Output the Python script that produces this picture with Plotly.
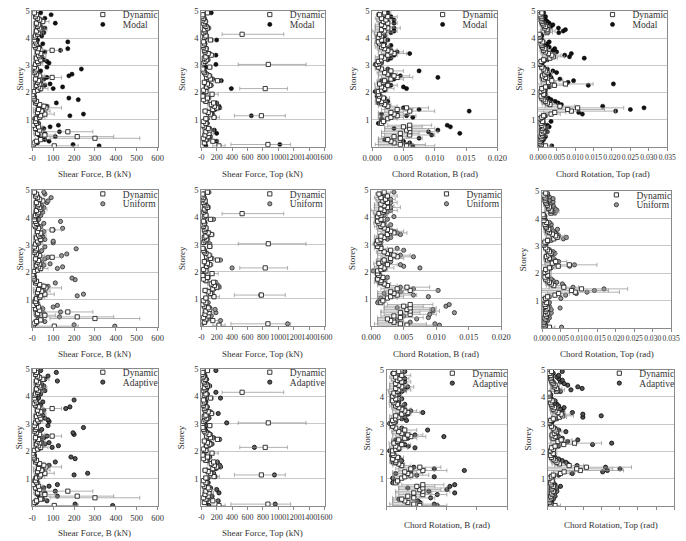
import plotly.graph_objects as go
import numpy as np

W, H = 686, 541

# ---------------- DATA ----------------
storey = [0.03, 0.08, 0.14, 0.20, 0.26, 0.31, 0.37, 0.43, 0.49, 0.55, 0.61, 0.67, 0.73, 0.79, 0.86, 0.93,
          1.03, 1.08, 1.14, 1.20, 1.26, 1.31, 1.37, 1.43, 1.49, 1.55, 1.61, 1.67, 1.73, 1.79, 1.86, 1.93,
          2.03, 2.08, 2.14, 2.20, 2.26, 2.31, 2.37, 2.43, 2.49, 2.55, 2.61, 2.67, 2.73, 2.79, 2.86, 2.93,
          3.03, 3.08, 3.14, 3.20, 3.26, 3.31, 3.37, 3.43, 3.49, 3.55, 3.61, 3.67, 3.73, 3.79, 3.86, 3.93,
          4.03, 4.08, 4.14, 4.20, 4.26, 4.31, 4.37, 4.43, 4.49, 4.55, 4.61, 4.67, 4.73, 4.79, 4.86, 4.93]

# Shear force, B (kN)
shear_b_dynamic = [105, 5, 10, 20, 40, 300, 215, 60, 25, 170, 35, 15, 30, 5, 20, 15,
                   20, 35, 40, 60, 25, 45, 30, 65, 55, 35, 15, 20, 10, 8, 5, 2,
                   10, 25, 40, 30, 20, 35, 25, 30, 15, 95, 35, 20, 10, 15, 20, 10,
                   15, 30, 25, 40, 20, 35, 30, 40, 25, 95, 30, 15, 10, 20, 15, 10,
                   10, 15, 25, 30, 20, 40, 35, 25, 30, 20, 50, 35, 25, 15, 20, 10]
shear_b_dynamic_err = [115, 5, 8, 15, 25, 215, 175, 50, 20, 120, 25, 10, 20, 5, 15, 10,
                       15, 25, 30, 45, 20, 40, 25, 75, 25, 20, 10, 10, 8, 5, 3, 2,
                       8, 20, 35, 25, 15, 30, 20, 25, 10, 45, 25, 15, 8, 10, 10, 8,
                       10, 20, 20, 25, 15, 30, 20, 25, 15, 45, 20, 10, 8, 10, 10, 5,
                       5, 10, 20, 25, 15, 30, 25, 20, 20, 15, 30, 20, 15, 10, 10, 8]
shear_b_modal = [320, 195, 25, 80, 60, 40, 110, 30, 60, 130, 20, 55, 85, 125, 30, 15,
                 10, 20, 180, 245, 30, 50, 25, 40, 70, 25, 115, 20, 220, 175, 10, 5,
                 5, 30, 100, 145, 60, 85, 40, 25, 55, 70, 175, 190, 20, 40, 235, 70,
                 20, 80, 70, 55, 30, 45, 40, 30, 60, 135, 170, 35, 20, 50, 170, 25,
                 15, 45, 30, 55, 35, 20, 60, 40, 25, 110, 50, 30, 60, 20, 90, 40]
shear_b_uniform = [395, 200, 20, 60, 45, 30, 130, 20, 55, 135, 15, 50, 100, 120, 25, 10,
                   15, 25, 215, 245, 35, 55, 30, 45, 75, 30, 110, 20, 205, 190, 10, 5,
                   5, 25, 120, 145, 55, 85, 45, 30, 60, 75, 140, 165, 25, 45, 210, 60,
                   25, 100, 100, 60, 35, 50, 45, 35, 55, 100, 145, 40, 25, 55, 135, 30,
                   20, 40, 30, 50, 40, 25, 55, 45, 30, 70, 75, 35, 90, 25, 60, 55]
shear_b_adaptive = [385, 205, 20, 70, 50, 35, 120, 25, 60, 110, 20, 55, 80, 120, 25, 10,
                    15, 20, 200, 265, 35, 50, 30, 45, 80, 25, 110, 20, 205, 185, 10, 5,
                    5, 30, 95, 125, 60, 80, 45, 30, 55, 70, 200, 195, 25, 45, 245, 75,
                    25, 80, 75, 60, 35, 50, 40, 30, 55, 160, 180, 40, 25, 50, 200, 30,
                    15, 40, 30, 60, 40, 25, 55, 45, 30, 120, 60, 35, 75, 25, 115, 40]

# Shear force, Top (kN)
shear_t_dynamic = [230, 865, 40, 150, 60, 30, 90, 50, 100, 60, 110, 90, 40, 20, 60, 30,
                   60, 165, 780, 120, 90, 50, 150, 200, 170, 130, 160, 60, 30, 80, 20, 140,
                   60, 30, 830, 70, 110, 80, 40, 210, 120, 70, 100, 60, 40, 30, 20, 110,
                   870, 30, 50, 70, 40, 60, 130, 90, 50, 40, 60, 30, 20, 40, 30, 120,
                   40, 60, 530, 30, 50, 40, 80, 60, 40, 30, 50, 20, 30, 10, 20, 80]
shear_t_dynamic_minus = [80, 480, 30, 70, 40, 20, 50, 30, 60, 40, 60, 40, 30, 15, 30, 20,
                         30, 70, 350, 50, 40, 30, 70, 60, 60, 50, 50, 30, 20, 40, 10, 80,
                         40, 20, 330, 40, 40, 40, 30, 50, 40, 30, 40, 30, 20, 20, 15, 30,
                         390, 20, 30, 40, 30, 40, 40, 40, 30, 25, 30, 20, 15, 20, 20, 40,
                         20, 30, 260, 20, 30, 25, 40, 30, 20, 20, 30, 15, 20, 10, 10, 30]
shear_t_dynamic_plus = [80, 295, 30, 70, 40, 20, 50, 30, 60, 40, 60, 40, 30, 15, 30, 20,
                        30, 70, 310, 50, 40, 30, 70, 60, 60, 50, 50, 30, 20, 40, 10, 80,
                        40, 20, 290, 40, 40, 40, 30, 50, 40, 30, 40, 30, 20, 20, 15, 30,
                        490, 20, 30, 40, 30, 40, 40, 40, 30, 25, 30, 20, 15, 20, 20, 40,
                        20, 30, 540, 20, 30, 25, 40, 30, 20, 20, 30, 15, 20, 10, 10, 30]
shear_t_modal = [60, 1020, 50, 200, 80, 40, 120, 70, 200, 90, 170, 110, 50, 30, 80, 40,
                 80, 170, 650, 150, 110, 60, 180, 240, 230, 160, 200, 70, 40, 100, 20, 30,
                 50, 40, 390, 90, 130, 100, 60, 260, 150, 90, 110, 80, 50, 40, 30, 60,
                 190, 40, 60, 90, 50, 80, 190, 110, 60, 50, 70, 40, 30, 50, 40, 200,
                 50, 70, 60, 40, 60, 50, 100, 70, 50, 40, 60, 30, 40, 20, 30, 130]
shear_t_uniform = [0, 1120, 50, 250, 90, 40, 130, 70, 190, 80, 180, 110, 60, 30, 90, 50,
                   70, 160, 770, 140, 100, 60, 170, 230, 220, 150, 190, 60, 40, 90, 20, 30,
                   40, 30, 400, 80, 120, 90, 50, 250, 140, 80, 100, 70, 50, 40, 30, 110,
                   110, 40, 50, 80, 40, 70, 120, 100, 60, 50, 60, 40, 30, 50, 40, 160,
                   40, 60, 50, 40, 50, 40, 90, 60, 50, 40, 50, 30, 40, 20, 30, 100]
shear_t_adaptive = [100, 960, 60, 220, 90, 50, 140, 80, 230, 100, 200, 120, 60, 40, 90, 50,
                    90, 180, 950, 160, 120, 70, 190, 250, 240, 170, 210, 80, 50, 110, 30, 40,
                    60, 50, 690, 100, 140, 110, 70, 240, 160, 100, 120, 90, 60, 50, 40, 70,
                    330, 50, 70, 100, 60, 90, 220, 120, 70, 60, 80, 50, 40, 60, 50, 250,
                    60, 80, 190, 50, 70, 60, 110, 80, 60, 50, 70, 40, 50, 30, 40, 190]

# Chord rotation, B (values in mrad)
rot_b_dynamic_mrad = [5.5, 4.5, 3.5, 3.0, 2.5, 4.5, 3.5, 6.0, 4.5, 6.0, 5.5, 6.0, 5.0, 6.0, 1.5, 1.8,
                      2.5, 3.0, 4.0, 3.5, 3.0, 6.0, 4.0, 5.5, 2.5, 2.0, 1.5, 1.5, 1.0, 1.8, 1.2, 1.0,
                      1.0, 1.5, 2.0, 1.5, 2.5, 1.2, 1.8, 2.0, 3.0, 4.0, 3.5, 2.5, 2.0, 3.0, 1.5, 1.0,
                      0.8, 1.2, 1.0, 1.5, 2.0, 1.5, 2.5, 3.5, 3.0, 2.5, 2.0, 1.5, 1.8, 1.2, 1.0, 1.5,
                      1.0, 1.5, 1.2, 1.8, 2.0, 1.5, 2.5, 2.0, 1.5, 2.5, 1.8, 2.2, 1.5, 2.5, 1.2, 2.0]
rot_b_dynamic_err_mrad = [4.5, 4.0, 2.5, 2.0, 1.5, 3.5, 2.0, 4.0, 3.0, 4.5, 3.5, 4.0, 3.0, 3.5, 0.5, 0.5,
                          1.5, 2.0, 3.0, 2.5, 2.0, 4.0, 2.5, 3.5, 1.5, 1.0, 1.0, 0.8, 0.5, 1.0, 0.5, 0.5,
                          0.5, 1.0, 1.5, 1.0, 1.5, 0.8, 1.0, 1.2, 2.0, 2.5, 2.5, 1.5, 1.2, 2.0, 1.0, 0.5,
                          0.5, 0.5, 0.5, 1.0, 1.2, 1.0, 1.5, 2.0, 2.0, 1.5, 1.2, 1.0, 1.0, 0.8, 0.5, 1.0,
                          0.5, 1.0, 0.8, 1.5, 2.0, 1.0, 2.0, 1.5, 1.0, 1.5, 1.0, 1.5, 1.0, 1.5, 0.5, 1.0]
rot_b_modal_mrad = [6.5, 5.5, 6.0, 5.0, 2.0, 7.5, 4.5, 9.5, 14.0, 9.0, 10.5, 3.5, 12.5, 12.0, 1.0, 1.5,
                    1.5, 6.5, 5.5, 1.5, 4.0, 15.5, 7.5, 5.0, 2.5, 2.0, 1.0, 2.5, 1.5, 2.0, 0.8, 1.0,
                    0.5, 2.0, 5.5, 5.0, 3.0, 2.0, 2.5, 1.5, 3.5, 10.5, 4.5, 3.0, 2.0, 7.5, 2.5, 1.0,
                    0.5, 1.5, 1.0, 2.5, 3.0, 2.0, 3.5, 6.0, 4.0, 3.0, 2.5, 1.5, 3.0, 2.0, 1.5, 2.5,
                    1.5, 2.0, 1.5, 3.0, 3.5, 2.0, 3.5, 2.5, 2.0, 3.5, 2.5, 3.5, 2.0, 3.0, 1.0, 2.5]
rot_b_uniform_mrad = [10.5, 9.8, 6.0, 4.0, 7.0, 8.8, 5.0, 9.0, 12.8, 9.5, 9.5, 4.0, 11.5, 12.0, 1.0, 1.2,
                      1.5, 8.8, 6.5, 2.0, 4.5, 10.3, 6.5, 4.5, 2.5, 2.0, 1.2, 2.0, 1.5, 2.5, 1.0, 1.2,
                      0.3, 2.0, 7.5, 5.0, 4.5, 2.5, 3.0, 2.0, 3.0, 6.5, 4.5, 3.0, 2.0, 5.0, 4.0, 1.5,
                      0.8, 1.5, 1.2, 2.5, 3.0, 2.0, 4.5, 4.0, 3.5, 2.5, 2.5, 1.5, 3.0, 2.0, 1.5, 2.5,
                      3.5, 2.0, 1.5, 2.5, 3.0, 2.0, 3.0, 2.5, 2.0, 3.0, 2.0, 3.0, 2.0, 2.5, 1.5, 3.5]
rot_b_adaptive_mrad = [8.4, 7.9, 5.5, 5.2, 2.0, 7.3, 4.5, 8.4, 11.3, 7.0, 10.0, 3.5, 10.5, 11.3, 1.0, 1.2,
                       1.0, 7.9, 5.0, 1.5, 4.0, 12.9, 7.9, 4.5, 2.5, 2.0, 1.0, 2.5, 1.5, 2.0, 0.8, 1.0,
                       0.5, 2.0, 4.7, 3.6, 3.0, 2.0, 2.5, 1.5, 3.5, 9.5, 4.7, 3.0, 2.0, 6.8, 2.5, 1.0,
                       0.5, 1.5, 3.3, 2.5, 3.0, 2.0, 3.5, 6.0, 4.0, 3.0, 2.5, 1.5, 3.0, 2.0, 1.5, 2.5,
                       1.5, 2.0, 1.5, 2.5, 3.0, 2.0, 3.5, 2.5, 2.0, 3.0, 2.5, 3.0, 2.0, 2.5, 1.0, 3.0]

# Chord rotation, Top (values in mrad)
rot_t_dynamic_mrad = [2.0, 0.8, 0.5, 0.5, 0.6, 1.0, 0.8, 1.2, 1.0, 1.5, 1.0, 1.2, 1.5, 1.0, 0.8, 1.2,
                      0.5, 1.0, 1.5, 3.5, 4.5, 9.0, 8.0, 10.7, 5.9, 3.2, 2.5, 2.0, 1.5, 1.0, 0.8, 1.5,
                      0.8, 1.5, 1.0, 2.0, 4.4, 7.4, 2.8, 3.7, 1.5, 2.0, 1.2, 1.8, 2.4, 2.0, 1.5, 1.0,
                      0.5, 0.3, 0.8, 1.5, 3.2, 4.1, 3.7, 2.8, 2.0, 1.5, 1.8, 1.2, 1.0, 0.8, 1.2, 0.5,
                      0.3, 0.5, 0.3, 2.4, 2.6, 2.4, 1.8, 2.0, 1.5, 1.2, 1.0, 0.8, 1.0, 0.8, 0.5, 1.0]
rot_t_dynamic_err_mrad = [1.5, 0.5, 0.3, 0.3, 0.5, 0.8, 0.5, 1.0, 0.8, 1.2, 0.8, 1.0, 1.2, 0.8, 0.5, 0.8,
                          0.3, 0.8, 1.0, 2.5, 3.0, 12.0, 10.0, 12.5, 4.0, 2.0, 1.5, 1.2, 1.0, 0.5, 0.5, 1.0,
                          0.5, 1.0, 0.5, 1.5, 3.5, 7.5, 2.0, 3.0, 1.0, 1.5, 0.8, 1.0, 1.5, 1.0, 1.0, 0.5,
                          0.3, 0.2, 0.5, 1.0, 2.0, 3.0, 2.5, 2.0, 1.2, 1.0, 1.0, 0.8, 0.5, 0.5, 0.8, 0.3,
                          0.2, 0.3, 0.2, 1.5, 2.0, 1.5, 1.0, 1.2, 1.0, 0.8, 0.5, 0.5, 0.5, 0.5, 0.3, 0.5]
rot_t_modal_mrad = [3.7, 0.5, 1.0, 0.8, 1.5, 1.0, 2.0, 1.5, 1.2, 2.5, 1.5, 2.0, 3.0, 2.5, 1.5, 3.5,
                    0.6, 1.5, 2.0, 12.0, 11.0, 21.0, 25.0, 28.7, 17.5, 6.3, 5.4, 4.6, 3.5, 2.8, 1.5, 2.0,
                    1.5, 2.0, 1.5, 3.0, 13.6, 20.4, 8.1, 9.6, 5.9, 3.5, 2.0, 3.0, 5.0, 4.0, 2.5, 1.5,
                    1.0, 0.8, 1.5, 2.5, 12.5, 8.5, 7.2, 9.0, 5.0, 4.0, 4.5, 3.0, 2.0, 2.5, 3.0, 1.0,
                    0.5, 1.0, 0.8, 5.6, 6.8, 7.4, 5.5, 3.5, 4.0, 3.0, 2.5, 2.0, 1.5, 2.0, 1.0, 1.5]
rot_t_uniform_mrad = [5.3, 1.0, 0.8, 0.5, 1.5, 1.0, 2.0, 1.5, 2.0, 2.5, 1.5, 2.5, 4.9, 2.0, 1.5, 2.0,
                      0.5, 5.1, 2.0, 6.4, 9.3, 12.2, 14.2, 16.8, 8.4, 5.8, 5.5, 4.0, 3.0, 2.5, 1.5, 1.5,
                      1.0, 1.5, 1.5, 2.5, 7.5, 8.8, 4.0, 4.5, 3.5, 3.0, 2.0, 2.5, 3.5, 3.0, 2.0, 1.0,
                      1.0, 0.8, 1.5, 2.5, 5.8, 6.6, 4.5, 4.0, 3.5, 3.0, 4.2, 2.5, 2.0, 2.5, 2.0, 1.0,
                      0.5, 0.8, 0.5, 3.5, 3.0, 4.0, 3.5, 3.0, 3.0, 2.5, 3.0, 2.0, 3.0, 2.0, 1.5, 1.5]
rot_t_adaptive_mrad = [1.0, 0.5, 1.0, 0.8, 1.5, 1.0, 2.0, 1.5, 2.0, 2.5, 2.0, 2.5, 3.5, 2.0, 1.5, 1.0,
                       0.5, 1.5, 3.0, 6.8, 15.2, 16.5, 20.0, 16.0, 8.1, 5.5, 5.0, 4.0, 3.0, 2.0, 1.5, 1.5,
                       1.0, 1.5, 1.5, 3.0, 12.4, 17.7, 5.5, 8.3, 4.0, 3.0, 2.0, 2.5, 5.0, 3.0, 2.0, 1.0,
                       1.0, 0.8, 1.5, 2.5, 9.7, 14.8, 9.7, 6.8, 4.0, 3.5, 4.5, 3.0, 2.5, 2.0, 2.0, 1.0,
                       0.5, 0.8, 0.5, 3.5, 6.4, 9.5, 8.3, 5.5, 4.5, 3.5, 4.0, 3.0, 2.5, 3.0, 1.5, 4.0]

# tick labels
shear_b_ticks = [0, 100, 200, 300, 400, 500, 600]
shear_b_ticktext = ["-0", "100", "200", "300", "400", "500", "600"]
shear_t_ticks = [0, 200, 400, 600, 800, 1000, 1200, 1400, 1600]
shear_t_ticktext = ["-0", "200", "400", "600", "800", "1000", "1200", "1400", "1600"]
rot_b_ticks = [0.0, 0.005, 0.010, 0.015, 0.020]
rot_b_ticktext = ["0.000", "0.005", "0.010", "0.015", "0.020"]
rot_t_ticks = [0.0, 0.005, 0.010, 0.015, 0.020, 0.025, 0.030, 0.035]
rot_t_ticktext = ["0.000", "0.005", "0.010", "0.015", "0.020", "0.025", "0.030", "0.035"]
storey_ticks = [1, 2, 3, 4, 5]

analyses = ["Modal", "Uniform", "Adaptive"]

# ---------------- BUILD ----------------
mr = lambda v: (np.array(v) * 1e-3).tolist()

columns = [
    dict(title="Shear Force, B (kN)", rng=[0, 600], tv=shear_b_ticks, tt=shear_b_ticktext, tfs=8.5,
         dyn=shear_b_dynamic, plus=shear_b_dynamic_err, minus=shear_b_dynamic_err,
         comp=[shear_b_modal, shear_b_uniform, shear_b_adaptive]),
    dict(title="Shear Force, Top (kN)", rng=[0, 1600], tv=shear_t_ticks, tt=shear_t_ticktext, tfs=8,
         dyn=shear_t_dynamic, plus=shear_t_dynamic_plus, minus=shear_t_dynamic_minus,
         comp=[shear_t_modal, shear_t_uniform, shear_t_adaptive]),
    dict(title="Chord Rotation, B (rad)", rng=[0, 0.020], tv=rot_b_ticks, tt=rot_b_ticktext, tfs=8.5,
         dyn=mr(rot_b_dynamic_mrad), plus=mr(rot_b_dynamic_err_mrad), minus=mr(rot_b_dynamic_err_mrad),
         comp=[mr(rot_b_modal_mrad), mr(rot_b_uniform_mrad), mr(rot_b_adaptive_mrad)]),
    dict(title="Chord Rotation, Top (rad)", rng=[0, 0.035], tv=rot_t_ticks, tt=rot_t_ticktext, tfs=7.6,
         dyn=mr(rot_t_dynamic_mrad), plus=mr(rot_t_dynamic_err_mrad), minus=mr(rot_t_dynamic_err_mrad),
         comp=[mr(rot_t_modal_mrad), mr(rot_t_uniform_mrad), mr(rot_t_adaptive_mrad)]),
]

# panel pixel boxes (left, right, top, bottom)
boxes = [
    [(23, 152, 6, 143), (197, 324, 6, 143), (373, 502, 6, 143), (544, 677, 6, 143)],
    [(23, 152, 187, 325), (197, 324, 187, 324), (372, 506, 187, 324), (548, 681, 188, 326)],
    [(23, 152, 367, 506), (197, 324, 367, 506), (388, 512, 368, 506), (554, 684, 368, 506)],
]
xtitle_y = [171, 352, 533]

comp_style = {
    "Modal": dict(color="#111111", line=dict(color="#000000", width=0.5)),
    "Uniform": dict(color="#9a9a9a", line=dict(color="#222222", width=0.8)),
    "Adaptive": dict(color="#555555", line=dict(color="#000000", width=0.8)),
}

FONT = "Liberation Serif"
TXT = "#333333"

fig = go.Figure()
layout = dict(width=W, height=H, margin=dict(l=0, r=0, t=0, b=0),
              paper_bgcolor="white", plot_bgcolor="white", showlegend=True,
              font=dict(family=FONT, size=9, color=TXT))
annotations = []

k = 0
for r in range(3):
    for c in range(4):
        k += 1
        col = columns[c]
        L, R, T, B = boxes[r][c]
        xa = "xaxis" if k == 1 else f"xaxis{k}"
        ya = "yaxis" if k == 1 else f"yaxis{k}"
        xr = "x" if k == 1 else f"x{k}"
        yr = "y" if k == 1 else f"y{k}"
        no_labels = (r == 2 and c >= 2)
        layout[xa] = dict(domain=[L / W, R / W], anchor=yr, range=col["rng"],
                          tickvals=col["tv"], ticktext=col["tt"], showticklabels=not no_labels,
                          tickangle=0, showgrid=False, zeroline=False, showline=True,
                          linecolor="#8a8a8a", linewidth=1, mirror=True, ticks="outside",
                          ticklen=3, tickcolor="#8a8a8a",
                          tickfont=dict(family=FONT, size=col["tfs"], color=TXT))
        layout[ya] = dict(domain=[1 - B / H, 1 - T / H], anchor=xr, range=[0, 5],
                          tickvals=storey_ticks, showgrid=True, gridcolor="#c8c8c8", gridwidth=1,
                          zeroline=False, showline=True, linecolor="#8a8a8a", linewidth=1, mirror=True,
                          ticks="", tickfont=dict(family=FONT, size=8.5, color=TXT))
        # axis titles
        ty = 525 if no_labels else xtitle_y[r]
        annotations.append(dict(text=col["title"], xref="paper", yref="paper",
                                x=(L + R) / 2 / W, y=1 - ty / H, xanchor="center", yanchor="middle",
                                showarrow=False, font=dict(family=FONT, size=9, color=TXT)))
        sx = L - 13 if c == 0 else L - 20
        annotations.append(dict(text="Storey", xref="paper", yref="paper", textangle=-90,
                                x=sx / W, y=1 - (T + B) / 2 / H, xanchor="center", yanchor="middle",
                                showarrow=False, font=dict(family=FONT, size=9, color=TXT)))
        lg1 = f"legend{2 * k - 1}" if 2 * k - 1 > 1 else "legend"
        lg2 = f"legend{2 * k}"
        name = analyses[r]
        fig.add_trace(go.Scatter(
            x=col["comp"][r], y=storey, xaxis=xr, yaxis=yr, mode="markers", name=name,
            legend=lg2, marker=dict(symbol="circle", size=4.2, **comp_style[name])))
        fig.add_trace(go.Scatter(
            x=col["dyn"], y=storey, xaxis=xr, yaxis=yr, mode="markers", name="Dynamic",
            legend=lg1,
            error_x=dict(type="data", symmetric=False, array=col["plus"], arrayminus=col["minus"],
                         color="#8f8f8f", thickness=0.7, width=2),
            marker=dict(symbol="square", size=4.2, color="white",
                        line=dict(width=0.9, color="#222222"))))
        lx = (R - 77) / W
        layout[lg1] = dict(x=lx, y=1 - (T - 11) / H, xanchor="left", yanchor="top",
                           bgcolor="rgba(0,0,0,0)", font=dict(family=FONT, size=9.5, color=TXT))
        layout[lg2] = dict(x=lx, y=1 - (T - 1) / H, xanchor="left", yanchor="top",
                           bgcolor="rgba(0,0,0,0)", font=dict(family=FONT, size=9.5, color=TXT))

layout["annotations"] = annotations
fig.update_layout(**layout)
fig.write_html("out.html")
